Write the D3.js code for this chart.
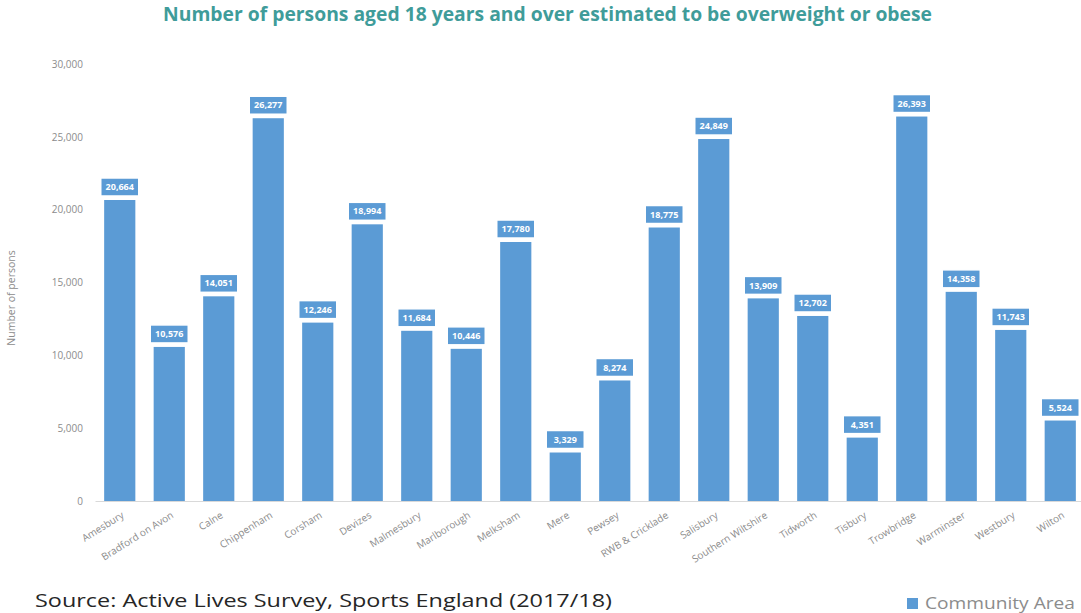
<!DOCTYPE html>
<html>
<head>
<meta charset="utf-8">
<script src="https://cdnjs.cloudflare.com/ajax/libs/d3/7.8.5/d3.min.js"></script>
<style>
  body { margin: 0; background: #fff; }
  svg { display: block; }
</style>
</head>
<body>
<div id="chart"></div>
<script>
// Community areas and estimated number of overweight / obese adults
var areas = ["Amesbury", "Bradford on Avon", "Calne", "Chippenham", "Corsham", "Devizes",
  "Malmesbury", "Marlborough", "Melksham", "Mere", "Pewsey", "RWB & Cricklade", "Salisbury",
  "Southern Wiltshire", "Tidworth", "Tisbury", "Trowbridge", "Warminster", "Westbury", "Wilton"];
var persons = [20664, 10576, 14051, 26277, 12246, 18994, 11684, 10446, 17780, 3329,
  8274, 18775, 24849, 13909, 12702, 4351, 26393, 14358, 11743, 5524];
var yTicks = [0, 5000, 10000, 15000, 20000, 25000, 30000];

var width = 1081, height = 613;
var margin = { left: 95, right: -4, top: 64, bottom: 112 };
var barColor = "#5b9bd5";

var svg = d3.select("#chart")
  .append("svg")
  .attr("width", width)
  .attr("height", height);

var x = d3.scaleBand()
  .domain(areas)
  .range([margin.left, width - margin.right])
  .paddingInner(0.37)
  .paddingOuter(0.185);

var y = d3.scaleLinear()
  .domain([0, 30000])
  .range([height - margin.bottom, margin.top]);

// title
svg.append("text")
  .attr("x", 163)
  .attr("y", 21)
  .attr("font-family", "Open Sans")
  .attr("font-weight", "bold")
  .attr("font-size", "19px")
  .attr("fill", "#3f9c9a")
  .attr("textLength", 769)
  .attr("lengthAdjust", "spacingAndGlyphs")
  .text("Number of persons aged 18 years and over estimated to be overweight or obese");

// y axis (labels only)
var yAxis = svg.append("g")
  .attr("transform", "translate(" + margin.left + ",0)")
  .call(d3.axisLeft(y).tickValues(yTicks).tickFormat(d3.format(",")).tickSize(0).tickPadding(12));
yAxis.select(".domain").remove();
yAxis.selectAll("text")
  .attr("font-family", "Open Sans")
  .attr("font-size", "10px")
  .attr("fill", "#8c8c8c");

svg.append("text")
  .attr("transform", "translate(15," + 298 + ") rotate(-90)")
  .attr("text-anchor", "middle")
  .attr("font-family", "Open Sans")
  .attr("font-size", "10.5px")
  .attr("fill", "#8c8c8c")
  .text("Number of persons");

// bars
svg.selectAll("rect.bar")
  .data(areas)
  .enter()
  .append("rect")
  .attr("class", "bar")
  .attr("x", function(d) { return x(d); })
  .attr("y", function(d, i) { return y(persons[i]); })
  .attr("width", x.bandwidth())
  .attr("height", function(d, i) { return y(0) - y(persons[i]); })
  .attr("fill", barColor);

// baseline and category labels
var xAxis = svg.append("g")
  .attr("transform", "translate(0," + y(0) + ")")
  .call(d3.axisBottom(x).tickSize(0).tickPadding(0));
xAxis.select(".domain")
  .attr("stroke", "#d9d9d9")
  .attr("stroke-width", 1);
xAxis.selectAll("text")
  .attr("font-family", "Open Sans")
  .attr("font-size", "10px")
  .attr("fill", "#8c8c8c")
  .attr("text-anchor", "end")
  .attr("y", 0)
  .attr("dy", 0)
  .attr("transform", "translate(5,16) rotate(-32)");

// value labels
var fmt = d3.format(",");
var labels = svg.selectAll("g.vlabel")
  .data(areas)
  .enter()
  .append("g")
  .attr("class", "vlabel")
  .attr("transform", function(d, i) {
    return "translate(" + (x(d) + x.bandwidth() / 2) + "," + (y(persons[i]) - 13) + ")";
  });
labels.append("rect")
  .attr("x", -19)
  .attr("y", -9)
  .attr("width", 38)
  .attr("height", 18)
  .attr("fill", barColor)
  .attr("stroke", "#ffffff")
  .attr("stroke-width", 1.5);
labels.append("text")
  .attr("text-anchor", "middle")
  .attr("dy", "0.35em")
  .attr("font-family", "Open Sans")
  .attr("font-weight", "bold")
  .attr("font-size", "9px")
  .attr("fill", "#ffffff")
  .text(function(d, i) { return fmt(persons[i]); });

// source note
svg.append("text")
  .attr("x", 35)
  .attr("y", 607)
  .attr("font-family", "Open Sans")
  .attr("font-size", "19px")
  .attr("fill", "#262626")
  .attr("textLength", 577)
  .attr("lengthAdjust", "spacingAndGlyphs")
  .text("Source: Active Lives Survey, Sports England (2017/18)");

// legend
svg.append("rect")
  .attr("x", 907)
  .attr("y", 598)
  .attr("width", 11)
  .attr("height", 11)
  .attr("fill", barColor);
svg.append("text")
  .attr("x", 925)
  .attr("y", 609)
  .attr("font-family", "Open Sans")
  .attr("font-size", "17px")
  .attr("fill", "#8c8c8c")
  .attr("textLength", 150)
  .attr("lengthAdjust", "spacingAndGlyphs")
  .text("Community Area");
</script>
</body>
</html>
